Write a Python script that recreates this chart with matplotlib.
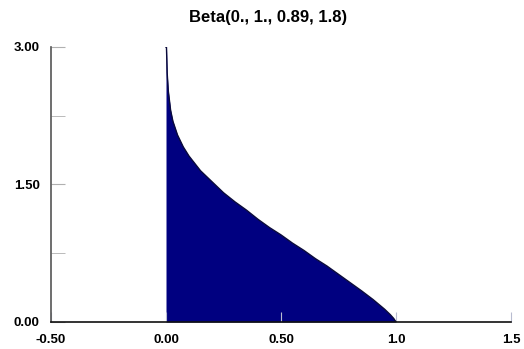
"""Beta(0., 1., 0.89, 1.8) density plot, filled area."""

import matplotlib
matplotlib.use("Agg")
import matplotlib.pyplot as plt

plt.rcParams.update({
    "font.family": ["Liberation Sans", "DejaVu Sans"],
    "font.size": 9,
    "font.weight": "bold",
})

# density values (x in [0, 1])
x_vals = [0.0, 0.002, 0.005, 0.01, 0.02, 0.03, 0.05, 0.075, 0.10, 0.15,
          0.20, 0.25, 0.30, 0.35, 0.40, 0.45, 0.50, 0.55, 0.60, 0.65,
          0.70, 0.75, 0.80, 0.85, 0.90, 0.95, 0.975, 0.99, 1.0]
y_vals = [3.00, 3.00, 2.72, 2.52, 2.31, 2.19, 2.04, 1.91, 1.81, 1.65,
          1.53, 1.41, 1.31, 1.22, 1.12, 1.03, 0.95, 0.86, 0.78, 0.69,
          0.61, 0.52, 0.43, 0.34, 0.245, 0.14, 0.08, 0.038, 0.0]

title = "Beta(0., 1., 0.89, 1.8)"
x_ticks = [-0.5, 0.0, 0.5, 1.0, 1.5]
x_labels = ["-0.50", "0.00", "0.50", "1.0", "1.5"]
y_ticks = [0.0, 1.5, 3.0]
y_labels = ["0.00", "1.50", "3.00"]
y_minor = [0.75, 2.25]

fig = plt.figure(figsize=(5.24, 3.49), dpi=100)
ax = fig.add_axes([0.0973, 0.0774, 0.878, 0.788])

ax.fill_between(x_vals, y_vals, 0, color="#000080", linewidth=0)
ax.plot(x_vals, y_vals, color="#0a0a3a", lw=1.0)

ax.set_xlim(-0.5, 1.5)
ax.set_ylim(0, 3.0)

ax.set_xticks(x_ticks)
ax.set_xticklabels(x_labels)
ax.set_yticks(y_ticks)
ax.set_yticklabels(y_labels)
ax.set_yticks(y_minor, minor=True)

ax.tick_params(axis="x", direction="in", length=7, color="#b8bcd0", pad=9,
               labelsize=9.5)
ax.tick_params(axis="y", which="both", direction="in", length=10,
               color="#b0b0b0", pad=8, labelsize=9.5)

for side in ("top", "right"):
    ax.spines[side].set_visible(False)
ax.spines["left"].set_color("#555555")
ax.spines["bottom"].set_color("#111111")
ax.spines["left"].set_linewidth(1.2)
ax.spines["bottom"].set_linewidth(1.2)

fig.text(0.511, 0.951, title, fontsize=12, fontweight="bold",
         ha="center", va="center")

fig.savefig("out.png", dpi=100)
